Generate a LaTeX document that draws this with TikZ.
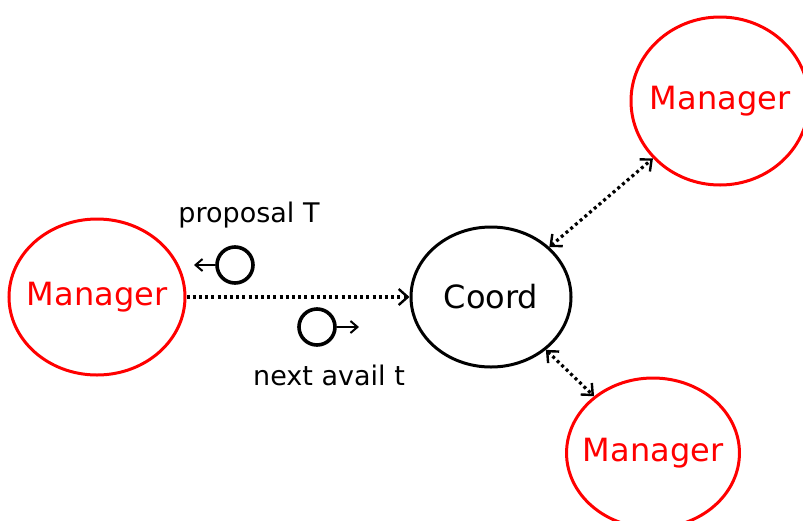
\documentclass[tikz,border=0pt]{standalone}
\usepackage{fontspec}
\setmainfont{DejaVu Sans}
\usepackage{xcolor}
\usetikzlibrary{arrows.meta,shapes.geometric}

\begin{document}
\begin{tikzpicture}[x=1pt,y=-1pt,font=\fontsize{32}{36}\selectfont,
    barb/.tip={Straight Barb[length=9pt,width=16pt,line width=2.4pt]},
    mgr/.style={draw=red,text=red,ellipse,line width=3pt,inner xsep=-9pt,inner ysep=0pt},
    msg/.style={draw,circle,line width=3.6pt,minimum size=36pt,inner sep=0pt},
    link/.style={line width=3.2pt,dash pattern=on 3pt off 3.2pt},
    tip/.style={line width=2pt,-{Straight Barb[length=7pt,width=12pt]}}]
  \useasboundingbox (0,0) rectangle (803,520);
  \node[mgr,minimum width=176pt,minimum height=156pt] (mgrL) at (97,297) {Manager};
  \node[draw,ellipse,line width=3pt,inner xsep=-4pt,minimum width=160pt,minimum height=140pt] (coord) at (491,297) {Coord};
  \node[mgr,minimum width=178pt,minimum height=168pt] (mgrT) at (720,101) {Manager};
  \node[mgr,minimum width=166pt,minimum height=150pt] (mgrB) at (653,453) {Manager};
  \draw[link,-barb] (mgrL) -- (coord);
  \draw[link,barb-barb] (coord) -- (mgrT);
  \draw[link,barb-barb] (coord) -- (mgrB);
  % messages on the left link
  \node[msg] (prop) at (235,265) {};
  \coordinate (propEnd) at (194,265);
  \draw[tip] (prop) -- (propEnd);
  \node[msg] (avail) at (317,327) {};
  \coordinate (availEnd) at (359,327);
  \draw[tip] (avail) -- (availEnd);
  \node[font=\fontsize{27}{30}\selectfont] (propTxt) at (249,215) {proposal T};
  \node[font=\fontsize{27}{30}\selectfont] (availTxt) at (329,375) {next avail t};
\end{tikzpicture}
\end{document}
